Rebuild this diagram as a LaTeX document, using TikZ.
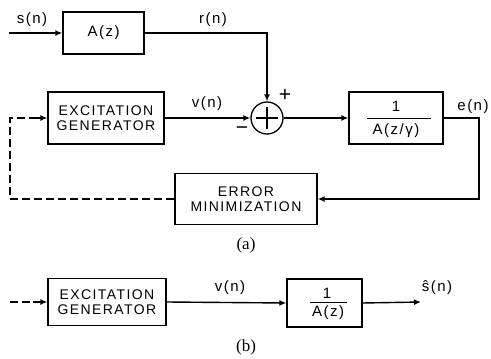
\documentclass[tikz,border=0pt]{standalone}
\usepackage{fontspec}
\setmainfont{Liberation Serif}
\newfontfamily\lab[LetterSpace=10]{Liberation Sans}
\usetikzlibrary{arrows.meta}
\tikzset{
  x=1pt, y=-1pt,
  line/.style={line width=1.4pt},
  arr/.style={line, -{Latex[length=7pt,width=6pt]}},
  dline/.style={line, dash pattern=on 8pt off 4pt},
  block/.style={draw, line width=1.3pt, inner sep=0pt, font=\lab\fontsize{14}{15}\selectfont, align=center},
  txt/.style={inner sep=0pt, font=\lab\fontsize{15}{16}\selectfont},
  sign/.style={inner sep=0pt, font=\lab\fontsize{21}{22}\selectfont},
  captxt/.style={inner sep=0pt, font=\fontsize{17}{18}\selectfont},
  sumnode/.style={draw, circle, line width=1.3pt, minimum size=32pt, inner sep=0pt}
}
\begin{document}
\begin{tikzpicture}
\useasboundingbox (0,0) rectangle (491,359);
% ---------- (a) ----------
\coordinate (sin) at (9,33);
\node[block, minimum width=81pt, minimum height=42pt] (A) at (103.5,33) {\fontsize{15}{16}\selectfont A(z)};
\node[block, minimum width=116pt, minimum height=52pt] (exc) at (106,118) {EXCITATION\\GENERATOR};
\node[sumnode] (sum) at (267,118) {};
\draw[line width=1.7pt] ([xshift=-11pt]sum.center) -- ([xshift=11pt]sum.center)
      ([yshift=-11pt]sum.center) -- ([yshift=11pt]sum.center);
\node[block, minimum width=94pt, minimum height=52pt] (W) at (396,118) {};
\node[txt] (W1) at (396,106) {1};
\draw[line width=1pt] (367,118) -- (431,118);
\node[txt] (W2) at (396,131) {A(z/γ)};
\node[block, minimum width=142pt, minimum height=51pt] (err) at (246,199) {ERROR\\MINIMIZATION};
\coordinate (rc) at (267,33);
\coordinate (ec) at (479,118);
\coordinate (ec2) at (479,199);
\coordinate (dl) at (10,199);
\coordinate (dl2) at (10,118);

\draw[arr] (sin) -- (A.west);
\draw[arr] (A.east) -- (rc) -- (sum.north);
\draw[arr] (exc.east) -- (sum.west);
\draw[arr] (sum.east) -- (W.west);
\draw[arr] (W.east) -- (ec) -- (ec2) -- (err.east);
\draw[dline] (err.west) -- (dl) -- (dl2) -- ([xshift=-10pt]exc.west);
\draw[arr] ([xshift=-12pt]exc.west) -- (exc.west);

\node[txt] (ls) at (32,20) {s(n)};
\node[txt] (lr) at (213,20) {r(n)};
\node[txt] (lv) at (207,104) {v(n)};
\node[sign] (lp) at (285,95) {+};
\node[sign] (lm) at (242,131) {−};
\node[txt] (le) at (473,107) {e(n)};
\node[captxt] (ca) at (246,245) {(a)};

% ---------- (b) ----------
\node[block, minimum width=118pt, minimum height=47pt] (exb) at (107,302) {EXCITATION\\GENERATOR};
\node[block, minimum width=75pt, minimum height=48pt] (Hb) at (324.5,303) {};
\node[txt] (H1) at (327,293) {1};
\draw[line width=1pt] (310,302) -- (347,302);
\node[txt] (H2) at (328,313) {A(z)};
\coordinate (bin) at (10,302);
\coordinate (bout) at (421,302);
\draw[dline] (bin) -- ([xshift=-12pt]exb.west);
\draw[arr] ([xshift=-14pt]exb.west) -- (exb.west);
\draw[arr] (exb.east) -- (Hb.west);
\draw[arr] (Hb.east) -- (bout);
\node[txt] (lvb) at (230,288) {v(n)};
\node[txt] (ls2) at (437,288) {ŝ(n)};
\node[captxt] (cb) at (246,347) {(b)};
\end{tikzpicture}
\end{document}
